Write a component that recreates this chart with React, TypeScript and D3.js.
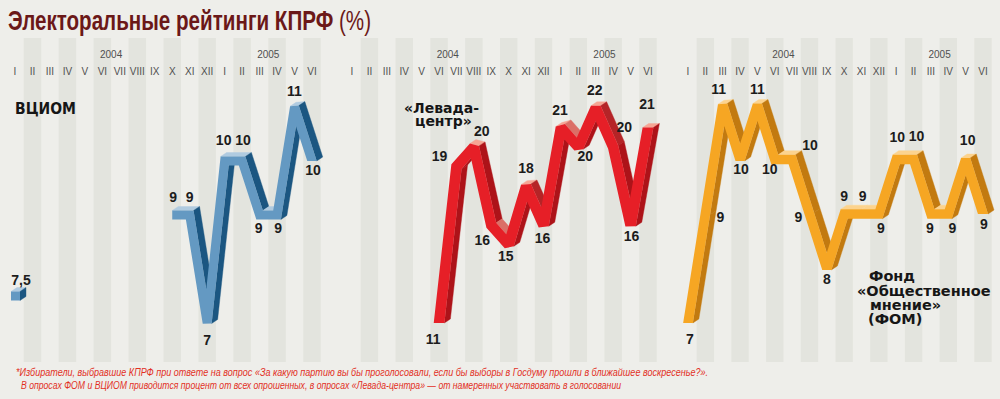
import React from 'react';
import * as d3 from 'd3';

// months Jan 2004 .. Jun 2005
const months = ['I', 'II', 'III', 'IV', 'V', 'VI', 'VII', 'VIII', 'IX', 'X', 'XI', 'XII', 'I', 'II', 'III', 'IV', 'V', 'VI'];
const years = ['2004', '2005'];

const vciom = [7.5, null, null, null, null, null, null, null, null, 9, 9, 7, 10, 10, 9, 9, 11, 10];
const levada = [null, null, null, null, null, 11, 19, 20, 16, 15, 18, 16, 21, 20, 22, 20, 16, 21];
const fom = [7, 9, 11, 10, 11, 10, 10, 9, 8, 9, 9, 9, 10, 10, 9, 9, 10, 9];

// where each value label sits relative to its point (dx, dy)
const vciomLabelOffsets = [[6, -11], null, null, null, null, null, null, null, null,
  [1, -13], [0, -13], [0, 22], [-1, -16], [1, -16], [-1, 18], [1, 18], [0, -11], [1, 14]];
const levadaLabelOffsets = [null, null, null, null, null,
  [-6, 21], [-17, -6], [8, -11], [-9, 20], [-3, 16], [0, -13], [-1, 18], [-1, -13], [7, 14], [-1, -13], [11, -15], [1, 16], [-1, -19]];
const fomLabelOffsets = [[2, 21], [15, 8], [-4, -11], [1, 14], [0, -11], [-5, 14], [18, -10], [-11, 8], [0, 15],
  [0, -13], [1, -13], [2, 19], [1, -18], [3, -19], [-1, 19], [4, 19], [2, -15], [1, 15]];

const footnote = [
  '*Избиратели, выбравшие КПРФ при ответе на вопрос «За какую партию вы бы проголосовали, если бы выборы в Госдуму прошли в ближайшее воскресенье?».',
  'В опросах ФОМ и ВЦИОМ приводится процент от всех опрошенных, в опросах «Левада-центра» — от намеренных участвовать в голосовании',
];

type Pt = [number, number];
const DEPTH: Pt = [6, -4];

// thick line outline with bevelled sharp joins and horizontal cuts at steep ends
function ribbon(pts: Pt[], w: number) {
  const n = pts.length;
  const dirs = [];
  for (let i = 0; i < n - 1; i++) {
    const dx = pts[i + 1][0] - pts[i][0], dy = pts[i + 1][1] - pts[i][1];
    const len = Math.hypot(dx, dy);
    dirs.push([dx / len, dy / len, len]);
  }
  const U: Pt[] = [], L: Pt[] = [];
  const cap = (p: Pt, u: number[]) => {
    if (Math.abs(u[1]) > 0.5) {
      U.push([p[0] + w / u[1], p[1]]);
      L.push([p[0] - w / u[1], p[1]]);
    } else {
      U.push([p[0] + u[1] * w, p[1] - u[0] * w]);
      L.push([p[0] - u[1] * w, p[1] + u[0] * w]);
    }
  };
  cap(pts[0], dirs[0]);
  for (let i = 1; i < n - 1; i++) {
    const p = pts[i], a = dirs[i - 1], b = dirs[i];
    const n1 = [a[1], -a[0]], n2 = [b[1], -b[0]];
    let mx = n1[0] + n2[0], my = n1[1] + n2[1];
    const ml = Math.hypot(mx, my) || 1e-6;
    mx /= ml; my /= ml;
    const cosHalf = mx * n1[0] + my * n1[1];
    const len = w / Math.max(cosHalf, 1e-3);
    if (len <= 1.8 * w) {
      U.push([p[0] + mx * len, p[1] + my * len]);
      L.push([p[0] - mx * len, p[1] - my * len]);
    } else {
      const cross = a[0] * b[1] - a[1] * b[0];
      const lc = Math.min(len, 0.9 * Math.min(a[2], b[2]));
      if (cross > 0) {
        U.push([p[0] + n1[0] * w, p[1] + n1[1] * w], [p[0] + n2[0] * w, p[1] + n2[1] * w]);
        L.push([p[0] - mx * lc, p[1] - my * lc]);
      } else {
        U.push([p[0] + mx * lc, p[1] + my * lc]);
        L.push([p[0] - n1[0] * w, p[1] - n1[1] * w], [p[0] - n2[0] * w, p[1] - n2[1] * w]);
      }
    }
  }
  cap(pts[n - 1], dirs[n - 2]);
  return [...U, ...L.reverse()];
}

const polyPath = (pts: Pt[]) => 'M' + pts.map(p => `${p[0].toFixed(2)},${p[1].toFixed(2)}`).join('L') + 'Z';

function Ribbon({ pts, w, colors }: { pts: Pt[]; w: number; colors: { front: string; side: string; top: string } }) {
  const outline = ribbon(pts, w);
  const shade = d3.interpolateRgb(colors.side, colors.top);
  const faces = [];
  for (let i = 0; i < outline.length; i++) {
    const a = outline[i], b = outline[(i + 1) % outline.length];
    const ex = b[0] - a[0], ey = b[1] - a[1];
    const len = Math.hypot(ex, ey);
    if (len < 0.01) continue;
    const nx = ey / len, ny = -ex / len;
    if (nx * DEPTH[0] + ny * DEPTH[1] <= 0.01) continue;
    const t = Math.max(0, Math.min(1, (-ny - 0.35) / 0.5));
    faces.push(
      <path key={i}
        d={polyPath([a, b, [b[0] + DEPTH[0], b[1] + DEPTH[1]], [a[0] + DEPTH[0], a[1] + DEPTH[1]]])}
        fill={shade(t)} stroke={shade(t)} strokeWidth={0.4} />
    );
  }
  return (
    <g>
      {faces}
      <path d={polyPath(outline)} fill={colors.front} />
    </g>
  );
}

const panels = [
  { key: 'vciom', values: vciom, offsets: vciomLabelOffsets, range: [15, 312], domain: [7, 11], yRange: [323, 107], w: 4.5,
    colors: { front: '#6499c2', side: '#1b5681', top: '#b0cbe0' } },
  { key: 'levada', values: levada, offsets: levadaLabelOffsets, range: [352, 648], domain: [11, 22], yRange: [323, 108], w: 5.3,
    colors: { front: '#e61f27', side: '#ad1319', top: '#f6a594' } },
  { key: 'fom', values: fom, offsets: fomLabelOffsets, range: [688, 983], domain: [7, 11], yRange: [323, 105], w: 4.8,
    colors: { front: '#f6a623', side: '#c27a10', top: '#fcd38e' } },
];

const valueFont = '"Liberation Sans", Arial, sans-serif';
const nameFont = '"DejaVu Sans", sans-serif';

export default function App() {
  return (
    <svg width={1000} height={399} style={{ position: 'absolute', left: 0, top: 0 }}>
      <rect width={1000} height={399} fill="#eeeeea" />

      {panels.map(p => {
        const x = d3.scalePoint<number>().domain(d3.range(months.length)).range(p.range as [number, number]);
        const step = x.step();
        return (
          <g key={p.key + '-bg'}>
            {months.map((m, i) => i % 2 === 1 ? (
              <rect key={i} x={x(i)! - step / 2} y={38} width={step} height={324} fill="#e3e4de" />
            ) : null)}
          </g>
        );
      })}

      <text x={8} y={30} fontFamily={valueFont} fontWeight="bold" fontSize={28} fill="#6b1818"
        textLength={363} lengthAdjust="spacingAndGlyphs">
        Электоральные рейтинги КПРФ <tspan fontWeight="normal">(%)</tspan>
      </text>

      {panels.map(p => {
        const x = d3.scalePoint<number>().domain(d3.range(months.length)).range(p.range as [number, number]);
        const y = d3.scaleLinear().domain(p.domain).range(p.yRange);
        const step = x.step();
        // split into runs of consecutive values
        const runs: { i: number; v: number }[][] = [];
        let cur: { i: number; v: number }[] = [];
        p.values.forEach((v, i) => {
          if (v == null) { if (cur.length) runs.push(cur); cur = []; } else cur.push({ i, v });
        });
        if (cur.length) runs.push(cur);
        return (
          <g key={p.key}>
            {months.map((m, i) => (
              <text key={'m' + i} x={x(i)} y={75} textAnchor="middle" fontFamily={valueFont} fontSize={10}
                fill="#505050">{m}</text>
            ))}
            {years.map((yr, k) => (
              <text key={'y' + yr} x={x(k === 0 ? 5 : 14)! + step / 2} y={58} textAnchor="middle"
                fontFamily={valueFont} fontSize={10} fill="#505050">{yr}</text>
            ))}
            {runs.map((run, r) => {
              const pts: Pt[] = run.length > 1
                ? run.map(d => [x(d.i)!, y(d.v)] as Pt)
                : [[x(run[0].i)! - 4, y(run[0].v)], [x(run[0].i)! + 5, y(run[0].v)]];
              return <Ribbon key={r} pts={pts} w={p.w} colors={p.colors} />;
            })}
            {p.values.map((v, i) => {
              const off = p.offsets[i];
              if (v == null || !off) return null;
              return (
                <text key={'l' + i} x={x(i)! + off[0]} y={y(v) + off[1]} textAnchor="middle"
                  fontFamily={valueFont} fontWeight="bold" fontSize={14} fill="#1c1c1c">
                  {String(v).replace('.', ',')}
                </text>
              );
            })}
          </g>
        );
      })}

      <text x={15} y={114} fontFamily={nameFont} fontWeight="bold" fontSize={15} fill="#161616"
        textLength={61} lengthAdjust="spacingAndGlyphs">ВЦИОМ</text>
      <text fontFamily={nameFont} fontWeight="bold" fontSize={14} fill="#161616">
        <tspan x={404} y={113}>«Левада-</tspan>
        <tspan x={415} y={126}>центр»</tspan>
      </text>
      <text fontFamily={nameFont} fontWeight="bold" fontSize={14.5} fill="#161616">
        <tspan x={869} y={281}>Фонд</tspan>
        <tspan x={857} y={296}>«Общественное</tspan>
        <tspan x={870} y={310}>мнение»</tspan>
        <tspan x={868} y={324}>(ФОМ)</tspan>
      </text>

      <g fontFamily={valueFont} fontStyle="italic" fontSize={10.5} fill="#e2301f">
        <text x={16} y={376} textLength={692} lengthAdjust="spacingAndGlyphs">{footnote[0]}</text>
        <text x={21} y={389} textLength={600} lengthAdjust="spacingAndGlyphs">{footnote[1]}</text>
      </g>
    </svg>
  );
}
